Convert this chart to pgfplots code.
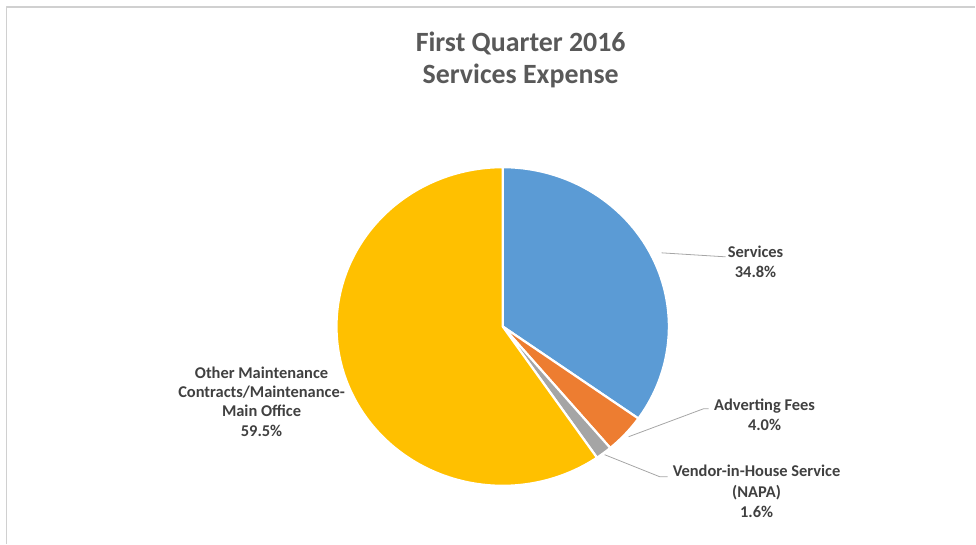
\documentclass[border=0pt]{standalone}
\usepackage{pgfplots}
\pgfplotsset{compat=1.18}
\usepackage{fontspec}
\setmainfont{Carlito}
\definecolor{cBlue}{HTML}{5B9BD5}
\definecolor{cOrange}{HTML}{ED7D31}
\definecolor{cGray}{HTML}{A5A5A5}
\definecolor{cYellow}{HTML}{FFC000}
\definecolor{cText}{HTML}{404040}
\definecolor{cTitle}{HTML}{595959}
\definecolor{cLead}{HTML}{A6A6A6}
\definecolor{cFrame}{HTML}{D0D0D0}
% shares in percent (clockwise from 12 o'clock)
\def\pA{34.8}\def\pB{4.0}\def\pC{1.6}\def\pD{59.5}
\def\cx{503}\def\cy{217.3}\def\Rx{166.3}\def\Ry{159.4}
\begin{document}
\begin{tikzpicture}
\pgfmathsetmacro{\aA}{90}
\pgfmathsetmacro{\aB}{90-3.6*\pA}
\pgfmathsetmacro{\aC}{\aB-3.6*\pB}
\pgfmathsetmacro{\aD}{\aC-3.6*\pC}
\pgfmathsetmacro{\aE}{-270}
\begin{axis}[
  scale only axis, width=976bp, height=544bp,
  xmin=0, xmax=976, ymin=0, ymax=544,
  hide axis, clip=false,
  every axis plot/.append style={line join=round},
]
% frame
\addplot[cFrame, line width=1.2bp] coordinates {(6.5,0) (6.5,537) (976,537)};
% slices
\addplot[fill=cBlue, draw=white, line width=2.2bp, domain=\aB:\aA, samples=90]
  ({\cx+\Rx*cos(x)},{\cy+\Ry*sin(x)}) -- (axis cs:\cx,\cy) -- cycle;
\addplot[fill=cOrange, draw=white, line width=2.2bp, domain=\aC:\aB, samples=20]
  ({\cx+\Rx*cos(x)},{\cy+\Ry*sin(x)}) -- (axis cs:\cx,\cy) -- cycle;
\addplot[fill=cGray, draw=white, line width=2.2bp, domain=\aD:\aC, samples=10]
  ({\cx+\Rx*cos(x)},{\cy+\Ry*sin(x)}) -- (axis cs:\cx,\cy) -- cycle;
\addplot[fill=cYellow, draw=white, line width=2.2bp, domain=\aE:\aD, samples=150]
  ({\cx+\Rx*cos(x)},{\cy+\Ry*sin(x)}) -- (axis cs:\cx,\cy) -- cycle;
% leader lines
\addplot[cLead, line width=0.8bp] coordinates {(662,291) (726,287)};
\addplot[cLead, line width=0.8bp] coordinates {(629,107) (704,135) (709,135)};
\addplot[cLead, line width=0.8bp] coordinates {(605,89) (660,67) (668,67)};
% title
\node[font=\bfseries\fontsize{28}{32}\selectfont, text=cTitle, align=center] at (axis cs:521,484) {First Quarter 2016\\Services Expense};
% labels
\node[font=\bfseries\fontsize{16.5}{20}\selectfont, text=cText, align=center] at (axis cs:756,282.3) {Services\\34.8\%};
\node[font=\bfseries\fontsize{16.5}{20}\selectfont, text=cText, align=center] at (axis cs:765,129) {Adverting Fees\\4.0\%};
\node[font=\bfseries\fontsize{16.5}{20.5}\selectfont, text=cText, align=center] at (axis cs:757,52.3) {Vendor-in-House Service\\(NAPA)\\1.6\%};
\node[font=\bfseries\fontsize{16.5}{19.5}\selectfont, text=cText, align=center] at (axis cs:261.7,142.2) {Other Maintenance\\Contracts/Maintenance-\\Main Office\\59.5\%};
\end{axis}
\path (current axis.south west) rectangle (current axis.north east);
\end{tikzpicture}
\end{document}
